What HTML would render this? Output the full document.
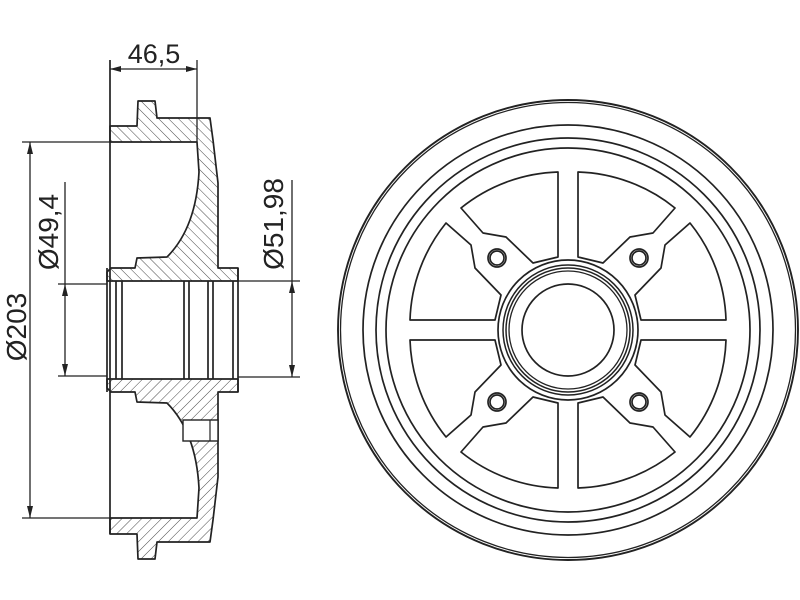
<!DOCTYPE html>
<html><head><meta charset="utf-8"><style>
html,body{margin:0;padding:0;background:#fff;}
svg{display:block;}
text{font-family:"Liberation Sans",sans-serif;fill:#222;}
</style></head><body>
<svg width="800" height="600" viewBox="0 0 800 600" xmlns="http://www.w3.org/2000/svg">
<defs>
<pattern id="h" patternUnits="userSpaceOnUse" width="7" height="7" patternTransform="rotate(-45)">
<line x1="0" y1="0" x2="0" y2="7" stroke="#333" stroke-width="0.9"/>
</pattern>
<path id="win" d="M10,-158 L10,-73 L35,-67 L62,-93 L85,-97 L107,-122 A162,162 0 0 0 10,-158 Z" fill="none" stroke="#222" stroke-width="1.7" stroke-linejoin="round"/>
<g id="half">
<path d="M110,126 L137,126 L138,101 L155,101 L157,118 L210,118 L213,140 L218,183 L218,268 L238,268 L238,281 L107,281 L107,272 L111,268 L135,268 L137,258 L167,257 Q196,228 199,172 L197,142 L110,142 Z" fill="url(#h)" stroke="#222" stroke-width="1.7" stroke-linejoin="round"/>
</g>
</defs>

<use href="#half"/>
<use href="#half" transform="translate(0,660) scale(1,-1)"/>
<rect x="183" y="420" width="35" height="21" fill="#fff" stroke="#222" stroke-width="1.4"/>
<line x1="210" y1="420" x2="210" y2="441" stroke="#222" stroke-width="1.2"/>
<g stroke="#222" stroke-width="1.7" fill="none">
<line x1="110" y1="60" x2="110" y2="534"/>
<line x1="107" y1="268" x2="107" y2="392"/>
<line x1="116" y1="281" x2="116" y2="379"/><line x1="122" y1="281" x2="122" y2="379"/>
<line x1="184" y1="281" x2="184" y2="379"/><line x1="189" y1="281" x2="189" y2="379"/>
<line x1="208" y1="281" x2="208" y2="379"/><line x1="213" y1="281" x2="213" y2="379"/>
<line x1="233" y1="281" x2="233" y2="379"/>
<line x1="238" y1="268" x2="238" y2="392"/>
</g>
<g stroke="#222" stroke-width="1.3" fill="none">
<line x1="197" y1="60" x2="197" y2="142"/>
<line x1="110" y1="69" x2="197" y2="69"/>
<line x1="22" y1="142" x2="110" y2="142"/>
<line x1="22" y1="518" x2="110" y2="518"/>
<line x1="30" y1="142" x2="30" y2="518"/>
<line x1="58" y1="284" x2="107" y2="284"/>
<line x1="58" y1="376" x2="107" y2="376"/>
<line x1="65" y1="182" x2="65" y2="376"/>
<line x1="238" y1="281" x2="300" y2="281"/>
<line x1="238" y1="377" x2="300" y2="377"/>
<line x1="292" y1="180" x2="292" y2="377"/>
</g>
<g fill="#222">
<polygon points="110,69 121,66 121,72"/><polygon points="197,69 186,66 186,72"/>
<polygon points="30,142 27,154 33,154"/><polygon points="30,518 27,506 33,506"/>
<polygon points="65,284 62,296 68,296"/><polygon points="65,376 62,364 68,364"/>
<polygon points="292,281 289,293 295,293"/><polygon points="292,377 289,365 295,365"/>
</g>
<text x="154" y="63" font-size="27" text-anchor="middle">46,5</text>
<text transform="translate(26,327) rotate(-90)" font-size="28" text-anchor="middle">Ø203</text>
<text transform="translate(58,232) rotate(-90)" font-size="28" text-anchor="middle">Ø49,4</text>
<text transform="translate(283,224) rotate(-90)" font-size="28" text-anchor="middle">Ø51,98</text>

<g transform="translate(568,330)" fill="none" stroke="#222">
<circle r="230" stroke-width="1.9"/>
<circle r="227.5" stroke-width="1.3"/>
<circle r="205" stroke-width="1.7"/>
<circle r="192" stroke-width="1.7"/>
<circle r="182" stroke-width="1.7"/>
<circle r="70" stroke-width="1.7"/>
<circle r="65" stroke-width="1.5"/>
<circle r="62" stroke-width="1.5"/>
<circle r="59" stroke-width="1.3"/>
<circle r="46" stroke-width="1.7"/>
<use href="#win"/>
<use href="#win" transform="matrix(0,-1,-1,0,0,0)"/>
<use href="#win" transform="rotate(90)"/>
<use href="#win" transform="rotate(90) matrix(0,-1,-1,0,0,0)"/>
<use href="#win" transform="rotate(180)"/>
<use href="#win" transform="rotate(180) matrix(0,-1,-1,0,0,0)"/>
<use href="#win" transform="rotate(270)"/>
<use href="#win" transform="rotate(270) matrix(0,-1,-1,0,0,0)"/>
<g stroke-width="1.7">
<circle cx="-71" cy="-72" r="9"/><circle cx="-71" cy="-72" r="7"/>
<circle cx="71" cy="-72" r="9"/><circle cx="71" cy="-72" r="7"/>
<circle cx="-71" cy="72" r="9"/><circle cx="-71" cy="72" r="7"/>
<circle cx="71" cy="72" r="9"/><circle cx="71" cy="72" r="7"/>
</g>
</g>
</svg>
</body></html>
